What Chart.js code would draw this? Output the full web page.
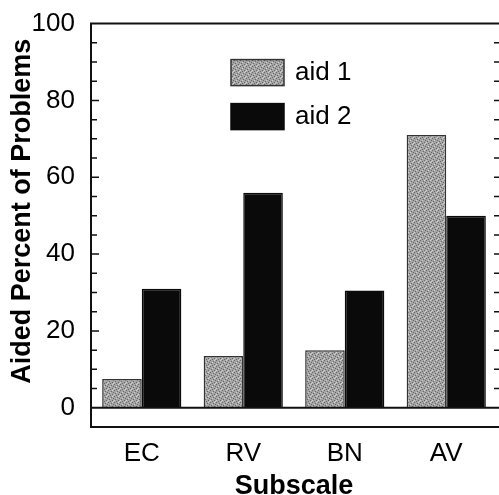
<!DOCTYPE html>
<html>
<head>
<meta charset="utf-8">
<script src="https://cdn.jsdelivr.net/npm/chart.js@4.4.0/dist/chart.umd.min.js"></script>
<style>
    html, body { margin: 0; padding: 0; background: #fff; }
    #wrap { width: 499px; height: 495px; position: relative; }
</style>
</head>
<body>
<div id="wrap"><canvas id="myChart"></canvas></div>
<script>
// data
var subscales = ['EC', 'RV', 'BN', 'AV'];
var seriesNames = ['aid 1', 'aid 2'];
var aid1 = [7.5, 13.5, 15, 71];
var aid2 = [31, 56, 30.5, 50];
var yTicks = [0, 20, 40, 60, 80, 100];
var yTitle = 'Aided Percent of Problems';

var FONT = '"Liberation Sans", Arial, Helvetica, sans-serif';

// speckled grey fill used for the first series
function makeStipple() {
    var c = document.createElement('canvas');
    c.width = 6;
    c.height = 6;
    var g = c.getContext('2d');
    g.fillStyle = '#a5a5a5';
    g.fillRect(0, 0, 6, 6);
    g.fillStyle = '#666';
    [[0, 0], [3, 1], [1, 3], [4, 4], [5, 2], [2, 5]].forEach(function(p) {
        g.fillRect(p[0], p[1], 1, 1);
    });
    g.fillStyle = '#d0d0d0';
    [[2, 2], [5, 5], [0, 4], [4, 0]].forEach(function(p) {
        g.fillRect(p[0], p[1], 1, 1);
    });
    return g.createPattern(c, 'repeat');
}

// box round the plot, zero line and inward tick marks on both sides
var framePlugin = {
    id: 'frame',
    afterDatasetsDraw: function(chart) {
        var ctx = chart.ctx;
        var a = chart.chartArea;
        var y = chart.scales.y;
        var y0 = y.getPixelForValue(0);
        ctx.save();
        ctx.strokeStyle = '#111';
        ctx.lineWidth = 2;
        ctx.beginPath();
        ctx.moveTo(a.left, a.top);
        ctx.lineTo(a.right + 2, a.top);
        ctx.moveTo(a.left, a.top - 1);
        ctx.lineTo(a.left, a.bottom + 1);
        ctx.moveTo(a.left, a.bottom);
        ctx.lineTo(a.right + 2, a.bottom);
        ctx.moveTo(a.left, y0);
        ctx.lineTo(a.right + 2, y0);
        ctx.stroke();

        ctx.lineWidth = 1.5;
        ctx.beginPath();
        for (var v = 5; v < 100; v += 5) {
            var py = y.getPixelForValue(v);
            var len = (v % 20 === 0) ? 8 : 6;
            ctx.moveTo(a.left, py);
            ctx.lineTo(a.left + len, py);
            ctx.moveTo(a.right - 3, py);
            ctx.lineTo(a.right + 2, py);
        }
        ctx.stroke();
        ctx.restore();
    }
};

// rotated y-axis title, sitting a little above the middle of the axis
var yTitlePlugin = {
    id: 'yTitle',
    afterDraw: function(chart) {
        var ctx = chart.ctx;
        var a = chart.chartArea;
        ctx.save();
        ctx.translate(23, (a.top + a.bottom) / 2 - 14);
        ctx.rotate(-Math.PI / 2);
        ctx.fillStyle = '#000';
        ctx.font = 'bold 27px ' + FONT;
        ctx.textAlign = 'center';
        ctx.textBaseline = 'middle';
        ctx.fillText(yTitle, 0, 0);
        ctx.restore();
    }
};

// legend drawn inside the plot area
var innerLegend = {
    id: 'innerLegend',
    afterDraw: function(chart) {
        var ctx = chart.ctx;
        var a = chart.chartArea;
        var x = a.left + 140;
        var top = a.top + 36;
        ctx.save();
        chart.data.datasets.forEach(function(ds, i) {
            var by = top + i * 44;
            ctx.fillStyle = ds.backgroundColor;
            ctx.fillRect(x, by, 53, 26);
            ctx.strokeStyle = ds.borderColor;
            ctx.lineWidth = 1.5;
            ctx.strokeRect(x, by, 53, 26);
            ctx.fillStyle = '#000';
            ctx.font = '26px ' + FONT;
            ctx.textBaseline = 'middle';
            ctx.textAlign = 'left';
            ctx.fillText(ds.label, x + 64, by + 13);
        });
        ctx.restore();
    }
};

var ctx = document.getElementById('myChart').getContext('2d');
var myChart = new Chart(ctx, {
    type: 'bar',
    data: {
        labels: subscales,
        datasets: [{
            label: seriesNames[0],
            data: aid1,
            backgroundColor: makeStipple(),
            borderColor: '#333',
            borderWidth: 1.5
        }, {
            label: seriesNames[1],
            data: aid2,
            backgroundColor: '#0a0a0a',
            borderColor: '#0a0a0a',
            borderWidth: 1.5
        }]
    },
    options: {
        responsive: true,
        maintainAspectRatio: false,
        devicePixelRatio: 1,
        animation: false,
        layout: { padding: { top: 23, right: 2, left: 0, bottom: 0 } },
        datasets: {
            bar: { categoryPercentage: 0.78, barPercentage: 1.0 }
        },
        plugins: {
            legend: { display: false },
            tooltip: { enabled: false }
        },
        scales: {
            x: {
                grid: { display: false },
                border: { display: false },
                ticks: {
                    color: '#000',
                    padding: 3,
                    font: { family: FONT, size: 26 }
                },
                title: {
                    display: true,
                    text: 'Subscale',
                    color: '#000',
                    padding: 0,
                    font: { family: FONT, size: 27, weight: 'bold', lineHeight: 0.66 }
                },
                afterFit: function(scale) { scale.height = 68; }
            },
            y: {
                min: -5,
                max: 100,
                grid: { display: false },
                border: { display: false },
                afterBuildTicks: function(scale) {
                    scale.ticks = yTicks.map(function(v) { return { value: v }; });
                },
                ticks: {
                    color: '#000',
                    padding: 8,
                    font: { family: FONT, size: 26 }
                },
                afterFit: function(scale) { scale.width = 91; }
            }
        }
    },
    plugins: [framePlugin, yTitlePlugin, innerLegend]
});
</script>
</body>
</html>
